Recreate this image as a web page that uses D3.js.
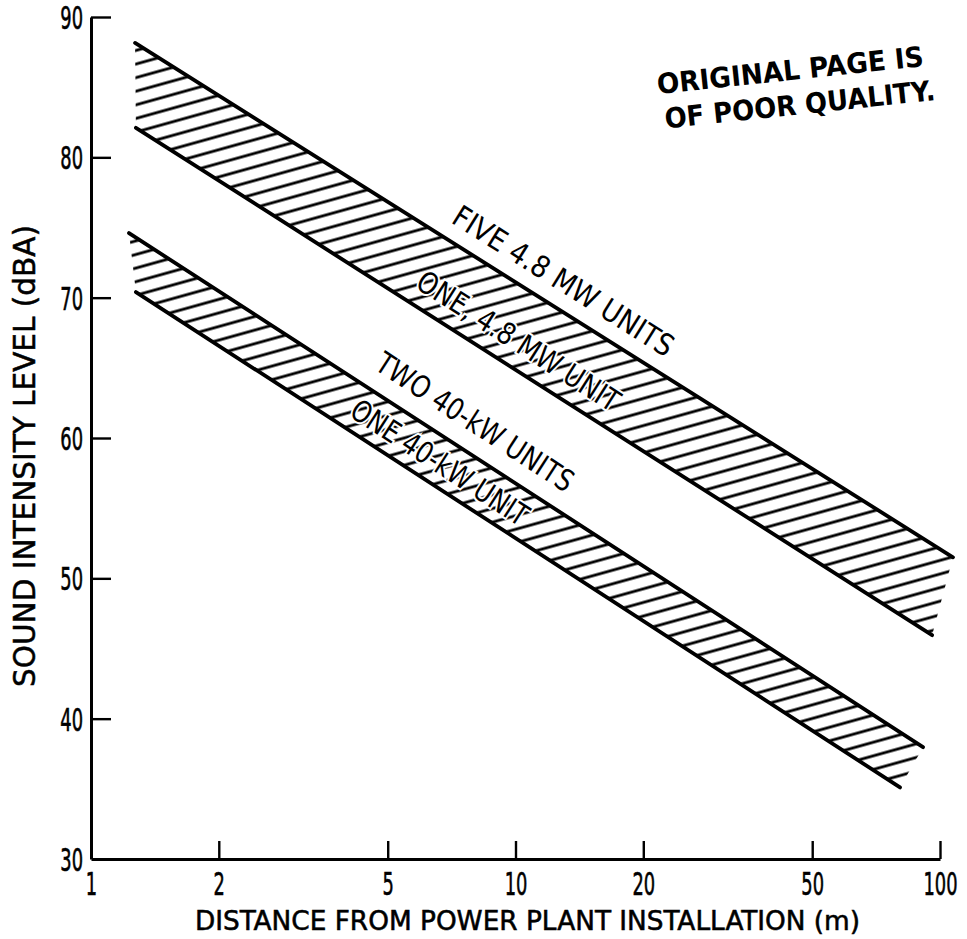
<!DOCTYPE html>
<html>
<head>
<meta charset="utf-8">
<script src="https://cdn.jsdelivr.net/npm/d3@7/dist/d3.min.js"></script>
<style>
  html, body { margin: 0; padding: 0; background: #fff; }
  svg { display: block; }
  text { font-family: "DejaVu Sans Condensed", "DejaVu Sans", sans-serif; fill: #000; }
</style>
</head>
<body>
<script>
// ---- Data ----
const xTicks = [1, 2, 5, 10, 20, 50, 100];
const yTicks = [30, 40, 50, 60, 70, 80, 90];
const xTitle = "DISTANCE FROM POWER PLANT INSTALLATION (m)";
const yTitle = "SOUND INTENSITY LEVEL (dBA)";

// band edges: [distance (m), level (dBA)]
const fiveMWTop    = [[1.27, 88.15], [107.3, 51.5]];
const oneMWBottom  = [[1.276, 82.1], [95.8, 45.95]];
const twoKWTop     = [[1.229, 74.6], [91.2, 37.97]];
const oneKWBottom  = [[1.276, 70.4], [80.5, 35.1]];

// labels: text, anchor [distance, level], length
const bandLabels = [
  {text: "FIVE 4.8 MW UNITS", at: [7.01, 75.39], len: 255, edge: fiveMWTop},
  {text: "ONE, 4.8 MW UNIT",  at: [5.77, 70.76], len: 234, edge: oneMWBottom},
  {text: "TWO 40-kW UNITS",   at: [4.62, 64.95], len: 229, edge: twoKWTop},
  {text: "ONE 40-kW UNIT",    at: [4.03, 61.6],  len: 205, edge: oneKWBottom}
];
const stampLines = ["ORIGINAL PAGE IS", "OF POOR QUALITY."];

// ---- Layout ----
const W = 967, H = 939;
const x = d3.scaleLog().domain([1, 100]).range([91, 940]);
const y = d3.scaleLinear().domain([30, 90]).range([859, 17]);

const svg = d3.select("body").append("svg").attr("width", W).attr("height", H);
const defs = svg.append("defs");
const pat = defs.append("pattern")
  .attr("id", "hatch")
  .attr("patternUnits", "userSpaceOnUse")
  .attr("width", 300).attr("height", 13.1)
  .attr("patternTransform", "rotate(-15.6)");
pat.append("line")
  .attr("x1", 0).attr("x2", 300).attr("y1", 6.55).attr("y2", 6.55)
  .attr("stroke", "#000").attr("stroke-width", 2.6);

const line = d3.line().x(d => x(d[0])).y(d => y(d[1]));

function band(top, bottom) {
  const poly = [top[0], top[1], bottom[1], bottom[0]];
  svg.append("path")
    .attr("d", line(poly) + "Z")
    .attr("fill", "url(#hatch)")
    .attr("stroke", "none");
  [top, bottom].forEach(edge => {
    svg.append("path")
      .attr("d", line(edge))
      .attr("fill", "none")
      .attr("stroke", "#000")
      .attr("stroke-width", 3.8)
      .attr("stroke-linecap", "round");
  });
}
band(fiveMWTop, oneMWBottom);
band(twoKWTop, oneKWBottom);

// ---- Axes ----
const yAxis = d3.axisLeft(y).tickValues(yTicks).tickSizeInner(-20).tickSizeOuter(0).tickPadding(8)
  .tickFormat(d3.format("d"));
const gy = svg.append("g").attr("transform", `translate(${x(1)},0)`).call(yAxis);

const xAxis = d3.axisBottom(x).tickValues(xTicks).tickSizeInner(-18).tickSizeOuter(0).tickPadding(13)
  .tickFormat(d3.format("d"));
const gx = svg.append("g").attr("transform", `translate(0,${y(30)})`).call(xAxis);

[gx, gy].forEach(g => {
  g.select(".domain").attr("stroke", "#000").attr("stroke-width", 3);
  g.selectAll(".tick line").attr("stroke", "#000").attr("stroke-width", 2.4);
  g.selectAll(".tick text")
    .style("font-family", '"DejaVu Sans Condensed", "DejaVu Sans", sans-serif')
    .attr("font-size", 32)
    .attr("fill", "#000")
    .attr("stroke", "#000").attr("stroke-width", 0.6);
});
// narrow the digits horizontally around their anchor
gy.selectAll(".tick text").each(function () {
  const t = d3.select(this);
  const xx = +t.attr("x");
  t.attr("x", xx / 0.62).attr("transform", "scale(0.62,1)").attr("dy", "0.36em");
});
gx.selectAll(".tick text").attr("transform", "scale(0.62,1)");
gy.select(".tick:first-of-type line").remove();
gx.select(".tick:first-of-type line").remove();

// ---- Titles ----
svg.append("text")
  .attr("x", 195).attr("y", 930)
  .attr("font-size", 26)
  .attr("stroke", "#000").attr("stroke-width", 0.5)
  .attr("textLength", 665).attr("lengthAdjust", "spacingAndGlyphs")
  .text(xTitle);

svg.append("text")
  .attr("transform", "translate(35,456) rotate(-90)")
  .attr("text-anchor", "middle")
  .attr("font-size", 30)
  .attr("stroke", "#000").attr("stroke-width", 0.5)
  .attr("textLength", 462).attr("lengthAdjust", "spacingAndGlyphs")
  .text(yTitle);

// ---- Band labels ----
bandLabels.forEach(l => {
  const p0 = l.edge[0], p1 = l.edge[1];
  const ang = Math.atan2(y(p1[1]) - y(p0[1]), x(p1[0]) - x(p0[0])) * 180 / Math.PI;
  svg.append("text")
    .attr("transform", `translate(${x(l.at[0])},${y(l.at[1])}) rotate(${ang})`)
    .attr("font-size", 30)
    .attr("stroke", "#fff").attr("stroke-width", 4).attr("paint-order", "stroke")
    .attr("textLength", l.len).attr("lengthAdjust", "spacingAndGlyphs")
    .text(l.text);
});

// ---- Stamp ----
const stamp = svg.append("g").attr("transform", "translate(658,94) rotate(-6)");
stampLines.forEach((s, i) => {
  stamp.append("text")
    .attr("x", i * 4).attr("y", i * 35)
    .attr("font-size", 28).attr("font-weight", "bold")
    .style("font-family", '"DejaVu Sans", sans-serif')
    .attr("textLength", 268 + i * 4).attr("lengthAdjust", "spacingAndGlyphs")
    .text(s);
});
</script>
</body>
</html>
